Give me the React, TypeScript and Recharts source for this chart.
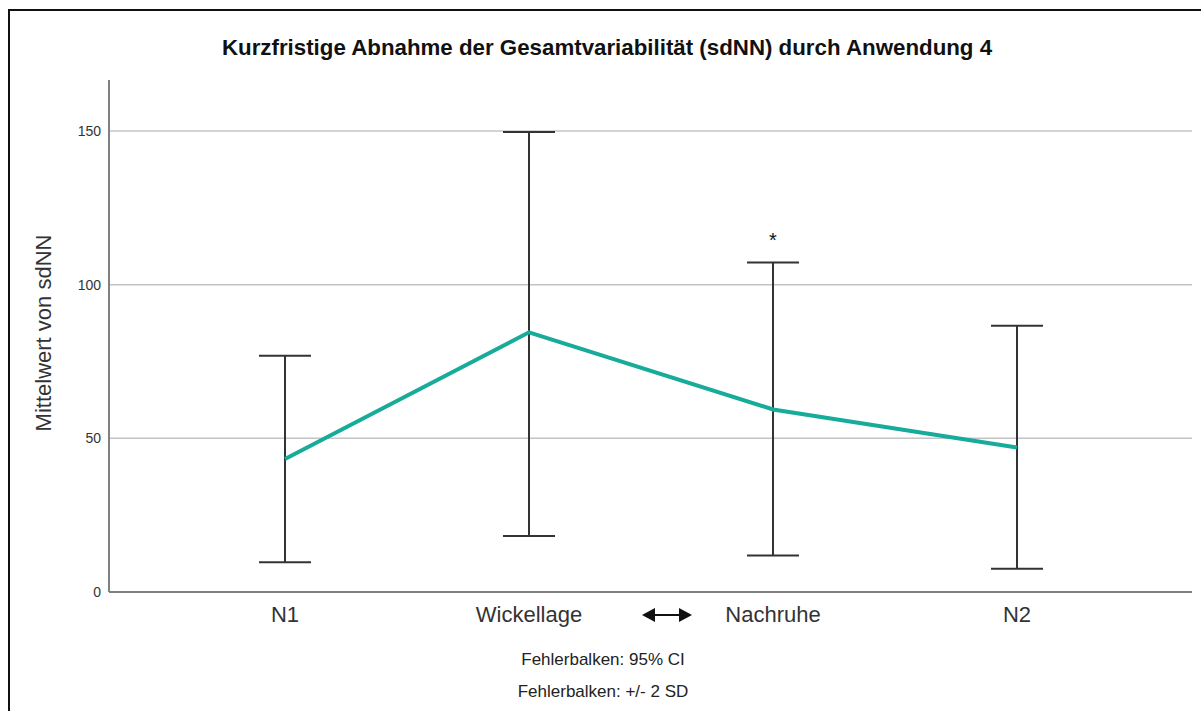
import React from 'react';
import { ComposedChart, Line, XAxis, YAxis, CartesianGrid, ErrorBar, LabelList } from 'recharts';

const categories = ['N1', 'Wickellage', 'Nachruhe', 'N2'];
const means = [43.3, 84.5, 59.4, 47.0];
const lower = [9.7, 18.2, 11.9, 7.6];
const upper = [76.9, 149.7, 107.2, 86.6];
const significance = ['', '', '*', ''];
const yTicks = [0, 50, 100, 150];
const gridValues = [50, 100, 150];

const data = categories.map((name, i) => ({
  name,
  mean: means[i],
  upper: upper[i],
  sig: significance[i],
  err: [means[i] - lower[i], upper[i] - means[i]],
}));

const font = '"Liberation Sans", Arial, sans-serif';

function Arrow() {
  return (
    <svg width={50} height={16} style={{ position: 'absolute', left: 642, top: 607 }}>
      <line x1={10} y1={8} x2={40} y2={8} stroke="#111" strokeWidth={2} />
      <polygon points="0,8 13,1 13,15" fill="#111" />
      <polygon points="50,8 37,1 37,15" fill="#111" />
    </svg>
  );
}

export default function App() {
  return (
    <div style={{ position: 'absolute', left: 0, top: 0, width: 1201, height: 711, background: '#fff', fontFamily: font }}>
      <div style={{ position: 'absolute', left: 8, top: 9, right: 0, bottom: 0, borderTop: '2px solid #111', borderLeft: '2px solid #111' }} />
      <div style={{ position: 'absolute', left: 607, top: 48, transform: 'translate(-50%, -50%)', whiteSpace: 'nowrap', fontSize: 22.3, fontWeight: 'bold', color: '#111' }}>
        Kurzfristige Abnahme der Gesamtvariabilität (sdNN) durch Anwendung 4
      </div>
      <div style={{ position: 'absolute', left: 44, top: 333, transform: 'translate(-50%, -50%) rotate(-90deg)', whiteSpace: 'nowrap', fontSize: 22, color: '#333' }}>
        Mittelwert von sdNN
      </div>
      <ComposedChart
        width={1201}
        height={711}
        data={data}
        margin={{ top: 80, right: 9, bottom: 79, left: 49 }}
        style={{ position: 'absolute', left: 0, top: 0 }}
      >
        <CartesianGrid vertical={false} horizontalValues={gridValues} stroke="#c4c4c4" strokeWidth={1.5} />
        <XAxis
          dataKey="name"
          scale="point"
          padding={{ left: 176, right: 175 }}
          height={40}
          tickLine={false}
          tickMargin={8}
          axisLine={{ stroke: '#808080', strokeWidth: 2 }}
          tick={{ fontSize: 22, fill: '#333', fontFamily: font }}
        />
        <YAxis
          width={60}
          domain={[0, 166.6]}
          ticks={yTicks}
          tickLine={false}
          axisLine={{ stroke: '#808080', strokeWidth: 2 }}
          tick={{ fontSize: 14, fill: '#333', fontFamily: font }}
        />
        <Line dataKey="mean" stroke="#17ab9a" strokeWidth={4} dot={false} isAnimationActive={false}>
          <ErrorBar dataKey="err" direction="y" width={26} stroke="#333" strokeWidth={2} />
        </Line>
        <Line dataKey="upper" stroke="none" dot={false} activeDot={false} isAnimationActive={false}>
          <LabelList dataKey="sig" position="top" offset={16} fontSize={20} fill="#111" fontFamily={font} />
        </Line>
      </ComposedChart>
      <Arrow />
      <div style={{ position: 'absolute', left: 603, top: 660, transform: 'translate(-50%, -50%)', whiteSpace: 'nowrap', fontSize: 17, color: '#222' }}>
        Fehlerbalken: 95% CI
      </div>
      <div style={{ position: 'absolute', left: 603, top: 692, transform: 'translate(-50%, -50%)', whiteSpace: 'nowrap', fontSize: 17, color: '#222' }}>
        Fehlerbalken: +/- 2 SD
      </div>
    </div>
  );
}
